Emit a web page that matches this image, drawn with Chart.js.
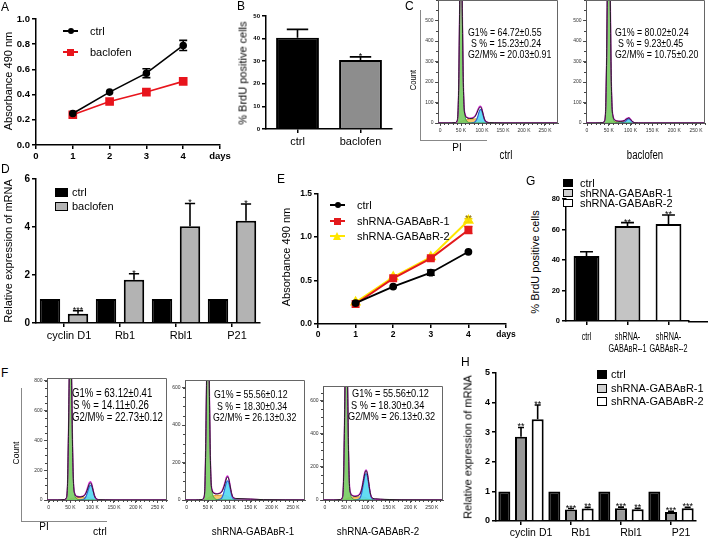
<!DOCTYPE html>
<html>
<head>
<meta charset="utf-8">
<script src="https://cdn.jsdelivr.net/npm/chart.js@4.4.1/dist/chart.umd.min.js"></script>
<style>
  body { margin: 0; background: #fff; }
  #page { position: relative; width: 709px; height: 540px; overflow: hidden; background: #fff;
          font-family: "Liberation Sans", Arial, sans-serif; color: #000; }
  #page canvas { position: absolute; }
  .t { position: absolute; white-space: nowrap; line-height: 1; }
</style>
</head>
<body>
<div id="page"></div>
<script>
// ---------- data ----------
// A: proliferation, baclofen
const days = [1, 2, 3, 4];
const dayTicks = [0, 1, 2, 3, 4, 5];
const dayTickLabels = ['0', '1', '2', '3', '4', 'days'];
const aYTicks = [0, 0.2, 0.4, 0.6, 0.8, 1.0];
const aCtrl = [0.25, 0.42, 0.57, 0.79];
const aCtrlErr = [0, 0, 0.035, 0.04];
const aBac = [0.24, 0.345, 0.42, 0.505];
const aBacErr = [0, 0, 0, 0];

// B: BrdU, baclofen
const bCats = ['ctrl', 'baclofen'];
const bYTicks = [0, 10, 20, 30, 40, 50];
const bVals = [40.4, 30.5];
const bErr = [3.7, 1.4];
const bStars = ['', '*'];

// D: mRNA, baclofen
const dCats = ['cyclin D1', 'Rb1', 'Rbl1', 'P21'];
const dYTicks = [0, 2, 4, 6];
const dCtrl = [1, 1, 1, 1];
const dBac = [0.39, 1.8, 4.03, 4.26];
const dBacErr = [0.12, 0.25, 0.95, 0.7];
const dStars = ['***', '*', '*', '*'];

// E: proliferation, shRNA
const eYTicks = [0, 0.5, 1.0, 1.5];
const eCtrl = [0.24, 0.43, 0.59, 0.83];
const eCtrlErr = [0, 0, 0.03, 0];
const eSh1 = [0.23, 0.525, 0.755, 1.08];
const eSh1Err = [0, 0, 0.015, 0.04];
const eSh2 = [0.25, 0.54, 0.77, 1.19];
const eSh2Err = [0, 0, 0, 0.02];
const eSh2Stars = ['', '', '', '**'];

// G: BrdU, shRNA
const gCats = ['ctrl', ['shRNA-', 'GABAʙR--1'], ['shRNA-', 'GABAʙR--2']];
const gYTicks = [0, 20, 40, 60, 80];
const gVals = [42.6, 62.3, 63.6];
const gErr = [2.8, 2.2, 5.9];
const gStars = ['', '**', '**'];

// H: mRNA, shRNA
const hCats = ['cyclin D1', 'Rb1', 'Rbl1', 'P21'];
const hYTicks = [0, 1, 2, 3, 4, 5];
const hCtrl = [1, 1, 1, 1];
const hSh1 = [2.85, 0.39, 0.43, 0.30];
const hSh1Err = [0.31, 0.03, 0.04, 0.03];
const hSh1Stars = ['**', '***', '***', '***'];
const hSh2 = [3.44, 0.42, 0.40, 0.43];
const hSh2Err = [0.48, 0.04, 0.03, 0.03];
const hSh2Stars = ['**', '**', '**', '***'];

// cell cycle histograms (PI, in K) : raw, fit, G1, S, G2/M
const hx = [-5, 20, 36, 40, 43, 45, 47, 49, 50, 51, 53, 55, 57, 60, 64, 70, 76, 82, 86, 90, 93, 96, 99, 102, 105, 108, 112, 118, 130, 150, 180, 285];
const histXTicks = [0, 50, 100, 150, 200, 250];
const cYTicks = [0, 100, 200, 300, 400, 500];
const fCtrlYTicks = [0, 200, 400, 600, 800];
const fShYTicks = [0, 200, 400, 600];

const cCtrlRaw = [0,0,2,8,60,250,620,900,960,880,560,250,90,38,26,22,22,28,40,60,72,78,70,48,24,10,4,2,1,0,0,0];
const cCtrlFit = [0,0,1,6,55,240,600,920,980,900,580,260,95,42,28,24,25,31,44,64,77,82,74,50,25,10,4,1,0,0,0,0];
const cCtrlG1  = [0,0,1,6,55,238,595,915,975,895,575,255,88,30,9,2,0,0,0,0,0,0,0,0,0,0,0,0,0,0,0,0];
const cCtrlS   = [0,0,0,0,0,2,4,6,7,8,10,12,13,14,16,18,19,20,20,19,17,14,10,6,3,1,0,0,0,0,0,0];
const cCtrlG2  = [0,0,0,0,0,0,0,0,0,0,0,0,0,0,0,0,1,4,12,32,54,66,62,42,20,8,2,0,0,0,0,0];

const cBacRaw = [0,0,2,10,80,320,720,1100,1200,1080,700,300,100,30,14,9,8,9,12,18,22,24,20,12,6,2,1,0,0,0,0,0];
const cBacFit = [0,0,1,8,75,310,710,1120,1220,1100,710,310,105,32,15,10,9,10,13,20,24,26,21,13,6,2,1,0,0,0,0,0];
const cBacG1  = [0,0,1,8,74,308,706,1115,1215,1095,705,305,98,26,6,1,0,0,0,0,0,0,0,0,0,0,0,0,0,0,0,0];
const cBacS   = [0,0,0,0,0,1,2,3,3,4,4,5,5,6,6,7,7,7,7,6,5,4,3,2,1,0,0,0,0,0,0,0];
const cBacG2  = [0,0,0,0,0,0,0,0,0,0,0,0,0,0,0,0,0,2,5,12,18,20,16,9,4,1,0,0,0,0,0,0];

const fCtrlRaw = [0,0,3,12,90,380,800,1150,1250,1120,720,320,110,40,24,20,22,30,48,80,105,115,100,65,30,12,4,2,1,0,0,0];
const fCtrlFit = [0,0,2,10,85,370,790,1160,1260,1130,730,330,115,42,26,22,24,33,54,90,115,124,108,70,32,12,4,1,0,0,0,0];
const fCtrlG1  = [0,0,2,10,84,366,785,1155,1255,1125,725,325,108,34,10,2,0,0,0,0,0,0,0,0,0,0,0,0,0,0,0,0];
const fCtrlS   = [0,0,0,0,0,2,4,6,8,9,11,13,14,15,16,17,18,19,19,18,16,13,10,6,3,1,0,0,0,0,0,0];
const fCtrlG2  = [0,0,0,0,0,0,0,0,0,0,0,0,0,0,0,0,2,8,25,60,88,100,90,62,30,11,3,0,0,0,0,0];

const fSh1Raw = [0,0,3,12,85,340,700,1000,1080,980,640,300,110,50,36,32,34,42,60,88,112,123,110,75,40,18,10,8,7,5,2,0];
const fSh1Fit = [0,0,2,10,80,330,690,1010,1090,990,650,305,115,52,38,34,36,45,65,95,120,128,114,78,40,17,9,7,6,4,1,0];
const fSh1G1  = [0,0,2,10,79,326,685,1005,1085,985,645,300,108,40,14,3,0,0,0,0,0,0,0,0,0,0,0,0,0,0,0,0];
const fSh1S   = [0,0,0,0,0,2,5,8,10,12,14,17,19,21,23,24,25,26,26,25,23,20,16,12,8,5,3,2,1,0,0,0];
const fSh1G2  = [0,0,0,0,0,0,0,0,0,0,0,0,0,0,0,0,3,10,30,65,92,102,92,64,32,12,4,1,0,0,0,0];

const fSh2Raw = [0,0,3,12,90,360,740,1050,1130,1020,660,300,100,40,26,22,24,36,66,120,160,178,160,110,55,22,10,7,5,3,1,0];
const fSh2Fit = [0,0,2,10,85,350,730,1060,1140,1030,670,305,105,42,28,24,27,40,72,128,168,182,164,112,56,22,9,6,4,2,1,0];
const fSh2G1  = [0,0,2,10,84,346,725,1055,1135,1025,665,300,98,32,10,2,0,0,0,0,0,0,0,0,0,0,0,0,0,0,0,0];
const fSh2S   = [0,0,0,0,0,2,4,6,8,9,11,13,14,15,16,17,18,19,19,18,16,13,10,6,3,1,0,0,0,0,0,0];
const fSh2G2  = [0,0,0,0,0,0,0,0,0,0,0,0,0,0,0,0,3,12,45,100,145,160,145,100,50,18,5,1,0,0,0,0];

// ---------- helpers ----------
const FONT = "'Liberation Sans', Arial, sans-serif";
Chart.defaults.font.family = FONT;
Chart.defaults.color = '#000';
const page = document.getElementById('page');

function zeroPad(s) { s.paddingTop = 0; s.paddingBottom = 0; s.paddingLeft = 0; s.paddingRight = 0; }

// rect = plot area [x0,y0,x1,y1] on the page, m = room for labels around it
function place(rect, m, cfg) {
  const w = rect[2] - rect[0] + m.l + m.r, h = rect[3] - rect[1] + m.t + m.b;
  const cv = document.createElement('canvas');
  cv.width = w; cv.height = h;
  cv.style.left = (rect[0] - m.l) + 'px'; cv.style.top = (rect[1] - m.t) + 'px';
  cv.style.width = w + 'px'; cv.style.height = h + 'px';
  page.appendChild(cv);
  const o = cfg.options;
  o.responsive = false; o.animation = false; o.maintainAspectRatio = false;
  o.layout = { padding: { left: 0, top: m.t, right: m.r, bottom: 0 } };
  o.plugins = Object.assign({ legend: { display: false }, tooltip: { enabled: false } }, o.plugins || {});
  o.scales.x.afterFit = s => { s.height = m.b; zeroPad(s); };
  o.scales.y.afterFit = s => { s.width = m.l; zeroPad(s); };
  return new Chart(cv, cfg);
}

function linAxis(min, max, ticks, fmt, size) {
  return {
    type: 'linear', min: min, max: max,
    afterBuildTicks: s => { s.ticks = ticks.map(v => ({ value: v })); },
    border: { display: true, color: '#000', width: 1.5 },
    grid: { display: true, drawOnChartArea: false, drawTicks: true, tickLength: 4, color: '#000', lineWidth: 1.5 },
    ticks: { font: { size: size, weight: 'bold' }, color: '#000', padding: 2, callback: fmt, maxRotation: 0, autoSkip: false }
  };
}

function catAxis(size, labelOffset, hide) {
  return {
    type: 'category',
    border: { display: true, color: '#000', width: 1.5 },
    grid: { display: true, drawOnChartArea: false, drawTicks: true, tickLength: 4, color: '#000', lineWidth: 1.5, offset: false },
    ticks: { display: !hide, font: { size: size }, color: '#000', padding: 2, maxRotation: 0, autoSkip: false, labelOffset: labelOffset || 0 }
  };
}

function hAxis(min, max, ticks, fmt) {
  return {
    type: 'linear', min: min, max: max,
    afterBuildTicks: s => { s.ticks = ticks.map(v => ({ value: v })); },
    border: { display: true, color: '#555', width: 1 },
    grid: { display: true, drawOnChartArea: false, drawTicks: true, tickLength: 3, color: '#555', lineWidth: 1 },
    ticks: { font: { size: 5 }, color: '#333', padding: 1.5, callback: fmt, maxRotation: 0, autoSkip: false }
  };
}

const pts = (xs, ys) => xs.map((x, i) => ({ x: x, y: ys[i] }));
const dayLabel = v => dayTickLabels[dayTicks.indexOf(v)];

// error bars + stars, drawn from the value scale
const errPlugin = {
  id: 'errs',
  afterDatasetsDraw(chart) {
    const ctx = chart.ctx, ys = chart.scales.y;
    chart.data.datasets.forEach((ds, di) => {
      if (!ds.errs) return;
      const meta = chart.getDatasetMeta(di);
      meta.data.forEach((el, i) => {
        const v = ds.data[i];
        const val = typeof v === 'object' ? v.y : v;
        const e = ds.errs[i];
        const yT = ys.getPixelForValue(val + e);
        ctx.save();
        if (e > 0) {
          const yB = ds.both ? ys.getPixelForValue(val - e) : el.y;
          const cap = ds.cap || el.width * 0.25;
          ctx.strokeStyle = ds.errColor || '#000';
          ctx.lineWidth = 1.6;
          ctx.beginPath();
          ctx.moveTo(el.x, yB); ctx.lineTo(el.x, yT);
          ctx.moveTo(el.x - cap, yT); ctx.lineTo(el.x + cap, yT);
          if (ds.both) { ctx.moveTo(el.x - cap, yB); ctx.lineTo(el.x + cap, yB); }
          ctx.stroke();
        }
        if (ds.stars && ds.stars[i]) {
          ctx.fillStyle = ds.starColor || '#000';
          ctx.font = '9px ' + FONT;
          ctx.textAlign = 'center';
          ctx.textBaseline = 'alphabetic';
          ctx.fillText(ds.stars[i], el.x, yT + 2);
        }
        ctx.restore();
      });
    });
  }
};

// category labels drawn narrow, at the x scale's tick positions
function narrowLabels(labels, size, sx, lineH, offset) {
  return {
    id: 'narrowLabels',
    afterDraw(chart) {
      const sc = chart.scales.x, ctx = chart.ctx;
      ctx.save();
      ctx.fillStyle = '#000'; ctx.font = size + 'px ' + FONT;
      ctx.textAlign = 'center'; ctx.textBaseline = 'middle';
      labels.forEach((lab, i) => {
        const x = sc.getPixelForTick(i);
        (Array.isArray(lab) ? lab : [lab]).forEach((ln, j) => {
          ctx.save();
          ctx.translate(x, sc.top + offset + j * lineH);
          ctx.scale(sx, 1);
          ctx.fillText(ln, 0, 0);
          ctx.restore();
        });
      });
      ctx.restore();
    }
  };
}

function axisExt(len) {
  return {
    id: 'axisExt',
    afterDraw(chart) {
      const { ctx, chartArea: a } = chart;
      ctx.save(); ctx.strokeStyle = '#000'; ctx.lineWidth = 1.5;
      ctx.beginPath(); ctx.moveTo(a.right - 1, a.bottom + 0.75); ctx.lineTo(a.right + len, a.bottom + 0.75); ctx.stroke();
      ctx.restore();
    }
  };
}

function histFrame(xMax, yMax, yMinor) {
  return {
    id: 'histFrame',
    afterDraw(chart) {
      const { ctx, chartArea: a, scales } = chart;
      ctx.save(); ctx.strokeStyle = '#666'; ctx.lineWidth = 1;
      ctx.beginPath();
      ctx.moveTo(a.left, a.top + 0.5); ctx.lineTo(a.right - 0.5, a.top + 0.5); ctx.lineTo(a.right - 0.5, a.bottom);
      ctx.stroke();
      ctx.strokeStyle = '#444';
      ctx.beginPath();
      for (let v = 0; v <= xMax; v += 10) {
        const x = Math.round(scales.x.getPixelForValue(v)) + 0.5;
        ctx.moveTo(x, a.bottom); ctx.lineTo(x, a.bottom + 2);
      }
      for (let v = 0; v <= yMax; v += yMinor) {
        const y = Math.round(scales.y.getPixelForValue(v)) + 0.5;
        ctx.moveTo(a.left, y); ctx.lineTo(a.left - 2, y);
      }
      ctx.stroke(); ctx.restore();
    }
  };
}

function histSets(raw, fit, g1, s, g2) {
  const base = { pointRadius: 0, cubicInterpolationMode: 'monotone', borderWidth: 1 };
  return [
    Object.assign({}, base, { data: pts(hx, s), fill: 'origin', backgroundColor: 'rgba(246,196,96,0.9)', borderColor: 'rgba(226,150,40,0.9)', order: 5 }),
    Object.assign({}, base, { data: pts(hx, g2), fill: 'origin', backgroundColor: 'rgba(86,218,242,0.92)', borderColor: '#2f5fd8', borderWidth: 1.2, order: 4 }),
    Object.assign({}, base, { data: pts(hx, g1), fill: 'origin', backgroundColor: 'rgba(118,204,96,0.9)', borderColor: '#3f9c3f', order: 3 }),
    Object.assign({}, base, { data: pts(hx, fit), fill: false, borderColor: '#d01fd0', borderWidth: 1.3, order: 2 }),
    Object.assign({}, base, { data: pts(hx, raw), fill: false, borderColor: '#222', borderWidth: 1, order: 1 })
  ];
}

function histChart(rect, m, xMin, xMax, yMax, yTicks, yMinor, sets) {
  place(rect, m, {
    type: 'line',
    data: { datasets: sets },
    options: {
      scales: {
        x: hAxis(xMin, xMax, histXTicks, v => v === 0 ? '0' : v + ' K'),
        y: hAxis(0, yMax, yTicks, v => v)
      }
    },
    plugins: [histFrame(270, yMax, yMinor)]
  });
}

function txt(s, x, y, size, o) {
  o = o || {};
  const d = document.createElement('div');
  d.className = 't'; d.textContent = s;
  d.style.left = x + 'px'; d.style.top = y + 'px'; d.style.fontSize = size + 'px';
  const sx = o.sx || 1;
  if (o.rot) d.style.transform = 'translate(-50%,-50%) rotate(-90deg) scaleX(' + sx + ')';
  else if (o.c) d.style.transform = 'translate(-50%,-50%) scaleX(' + sx + ')';
  else { d.style.transformOrigin = '0 50%'; d.style.transform = 'translateY(-50%) scaleX(' + sx + ')'; }
  if (o.color) d.style.color = o.color;
  page.appendChild(d);
}

function box(x, y, w, h, css) {
  const d = document.createElement('div');
  d.style.cssText = 'position:absolute;box-sizing:border-box;left:' + x + 'px;top:' + y + 'px;width:' + w + 'px;height:' + h + 'px;' + css;
  page.appendChild(d);
}

function legLine(x, y, color, shape, label) {
  box(x, y - 1, 15, 2, 'background:' + color);
  const cx = x + 7.5;
  if (shape === 'circle') box(cx - 3, y - 3, 6, 6, 'border-radius:50%;background:' + color);
  if (shape === 'rect') box(cx - 3.5, y - 3.5, 7, 7, 'background:' + color);
  if (shape === 'tri') box(cx - 4.5, y - 4.5, 9, 8, 'width:0;height:0;border-left:4.5px solid transparent;border-right:4.5px solid transparent;border-bottom:8px solid ' + color);
  txt(label, x + 27, y, 11);
}

function legBox(x, y, w, h, fill, label, tx) {
  box(x, y - h / 2, w, h, 'background:' + fill + ';border:1px solid #000');
  txt(label, tx, y, 11);
}

// ---------- A ----------
place([36, 19, 220, 145], { l: 36, t: 8, r: 14, b: 18 }, {
  type: 'line',
  data: { datasets: [
    { data: pts(days, aCtrl), errs: aCtrlErr, both: true, cap: 4, borderColor: '#000', backgroundColor: '#000',
      borderWidth: 1.6, pointStyle: 'circle', pointRadius: 3, order: 1 },
    { data: pts(days, aBac), errs: aBacErr, both: true, cap: 4, errColor: '#e8141c', borderColor: '#e8141c', backgroundColor: '#e8141c',
      borderWidth: 1.6, pointStyle: 'rect', pointRadius: 5, order: 2 }
  ] },
  options: { scales: {
    x: linAxis(0, 5, dayTicks, dayLabel, 9.5),
    y: linAxis(0, 1, aYTicks, v => v.toFixed(1), 9.5)
  } },
  plugins: [errPlugin]
});

// ---------- B ----------
place([266, 16, 392, 129], { l: 18, t: 6, r: 4, b: 20 }, {
  type: 'bar',
  data: { labels: bCats, datasets: [
    { data: bVals, errs: bErr, stars: bStars, backgroundColor: ['#000', '#8d8d8d'], borderColor: '#000', borderWidth: 2,
      barPercentage: 0.68, categoryPercentage: 1 }
  ] },
  options: { scales: { x: catAxis(11), y: linAxis(0, 50, bYTicks, v => v, 6) } },
  plugins: [errPlugin]
});

// ---------- C ----------
histChart([438, 0, 558, 123], { l: 20, t: 0, r: 8, b: 14 }, -4.8, 281, 600, cYTicks, 50,
  histSets(cCtrlRaw, cCtrlFit, cCtrlG1, cCtrlS, cCtrlG2));
histChart([586, 0, 705, 123], { l: 18, t: 0, r: 4, b: 14 }, -2.3, 270.7, 600, cYTicks, 50,
  histSets(cBacRaw, cBacFit, cBacG1, cBacS, cBacG2));

// ---------- D ----------
place([36, 179, 260, 323], { l: 36, t: 8, r: 4, b: 22 }, {
  type: 'bar',
  data: { labels: dCats, datasets: [
    { data: dCtrl, backgroundColor: '#000', borderColor: '#000', borderWidth: 2, barPercentage: 0.73, categoryPercentage: 1 },
    { data: dBac, errs: dBacErr, stars: dStars, backgroundColor: '#b3b3b3', borderColor: '#000', borderWidth: 2,
      barPercentage: 0.73, categoryPercentage: 1 }
  ] },
  options: { scales: { x: catAxis(11, 5), y: linAxis(0, 6, dYTicks, v => v, 10) } },
  plugins: [errPlugin]
});

// ---------- E ----------
place([318, 193, 506, 324], { l: 28, t: 6, r: 14, b: 18 }, {
  type: 'line',
  data: { datasets: [
    { data: pts(days, eCtrl), errs: eCtrlErr, both: true, cap: 4, borderColor: '#000', backgroundColor: '#000',
      borderWidth: 1.8, pointStyle: 'circle', pointRadius: 3, order: 1 },
    { data: pts(days, eSh1), errs: eSh1Err, both: true, cap: 4, errColor: '#e31a1c', borderColor: '#e31a1c', backgroundColor: '#e31a1c',
      borderWidth: 2, pointStyle: 'rect', pointRadius: 4.2, order: 2 },
    { data: pts(days, eSh2), errs: eSh2Err, both: true, cap: 4, errColor: '#f5d800', stars: eSh2Stars, starColor: '#8a6a00',
      borderColor: '#ffe600', backgroundColor: '#ffe600', borderWidth: 2, pointStyle: 'triangle', pointRadius: 4.5, order: 3 }
  ] },
  options: { scales: {
    x: linAxis(0, 5, dayTicks, dayLabel, 8.5),
    y: linAxis(0, 1.5, eYTicks, v => v.toFixed(1), 8.5)
  } },
  plugins: [errPlugin]
});

// ---------- G ----------
place([566, 199, 689, 321], { l: 20, t: 8, r: 19, b: 32 }, {
  type: 'bar',
  data: { labels: gCats, datasets: [
    { data: gVals, errs: gErr, stars: gStars, backgroundColor: ['#000', '#c4c4c4', '#fff'], borderColor: '#000', borderWidth: 2,
      barPercentage: 0.63, categoryPercentage: 1 }
  ] },
  options: { scales: { x: catAxis(11, 0, true), y: linAxis(0, 80, gYTicks, v => v, 7.5) } },
  plugins: [errPlugin, axisExt(19), narrowLabels(gCats, 11, 0.66, 11.5, 16)]
});

// ---------- F ----------
histChart([47, 378, 167, 500], { l: 16, t: 3, r: 6, b: 12 }, -4, 272, 820, fCtrlYTicks, 50,
  histSets(fCtrlRaw, fCtrlFit, fCtrlG1, fCtrlS, fCtrlG2));
histChart([185, 380, 305, 500], { l: 16, t: 3, r: 6, b: 12 }, -4, 278, 640, fShYTicks, 50,
  histSets(fSh1Raw, fSh1Fit, fSh1G1, fSh1S, fSh1G2));
histChart([323, 386, 443, 500], { l: 16, t: 3, r: 6, b: 12 }, -4.7, 276, 690, fShYTicks, 50,
  histSets(fSh2Raw, fSh2Fit, fSh2G1, fSh2S, fSh2G2));

// ---------- H ----------
place([496, 373, 696, 521], { l: 24, t: 6, r: 8, b: 19 }, {
  type: 'bar',
  data: { labels: hCats, datasets: [
    { data: hCtrl, backgroundColor: '#000', borderColor: '#000', borderWidth: 2, barPercentage: 0.72, categoryPercentage: 1 },
    { data: hSh1, errs: hSh1Err, stars: hSh1Stars, backgroundColor: '#999', borderColor: '#000', borderWidth: 2,
      barPercentage: 0.72, categoryPercentage: 1 },
    { data: hSh2, errs: hSh2Err, stars: hSh2Stars, backgroundColor: '#fff', borderColor: '#000', borderWidth: 2,
      barPercentage: 0.72, categoryPercentage: 1 }
  ] },
  options: { scales: { x: catAxis(10.5, 10), y: linAxis(0, 5, hYTicks, v => v, 9) } },
  plugins: [errPlugin]
});

// ---------- text, legends, frames ----------
txt('A', 1, 7, 12); txt('B', 237, 6, 12); txt('C', 405, 6, 12);
txt('D', 1, 169, 12); txt('E', 277, 179, 12); txt('F', 1, 373, 12);
txt('G', 526, 181, 12); txt('H', 461, 362, 12);

txt('Absorbance 490 nm', 8, 81, 11, { rot: true });
txt('% BrdU positive cells', 243, 73, 11, { rot: true });
txt('Relative expression of mRNA', 8, 251, 11, { rot: true });
txt('Absorbance 490 nm', 286, 257, 11, { rot: true });
txt('% BrdU positive cells', 535, 262, 11, { rot: true });
txt('Relative expression of mRNA', 468, 447, 11, { rot: true });

legLine(63, 31, '#000', 'circle', 'ctrl');
legLine(63, 52, '#e8141c', 'rect', 'baclofen');
legBox(55, 192, 13, 9, '#000', 'ctrl', 72);
legBox(55, 206, 13, 9, '#b3b3b3', 'baclofen', 72);
legLine(330, 205, '#000', 'circle', 'ctrl');
legLine(330, 221, '#e31a1c', 'rect', 'shRNA-GABAʙR-1');
legLine(330, 236, '#ffe600', 'tri', 'shRNA-GABAʙR-2');
legBox(563, 183, 10, 8, '#000', 'ctrl', 580);
legBox(563, 193, 10, 8, '#d0d0d0', 'shRNA-GABAʙR-1', 580);
legBox(563, 203, 10, 8, '#fff', 'shRNA-GABAʙR-2', 580);
legBox(597, 374, 10, 9, '#000', 'ctrl', 611);
legBox(597, 388, 10, 9, '#d0d0d0', 'shRNA-GABAʙR-1', 611);
legBox(597, 401, 10, 9, '#fff', 'shRNA-GABAʙR-2', 611);

// C labels
box(420, 10, 1, 131, 'background:#888');
box(420, 140, 67, 1, 'background:#888');
txt('Count', 413, 80, 9, { rot: true, sx: 0.85 });
txt('PI', 457, 148, 10, { c: true });
txt('ctrl', 506, 155, 12, { c: true, sx: 0.8 });
txt('baclofen', 645, 155, 12, { c: true, sx: 0.8 });
txt('G1% = 64.72±0.55', 468, 32, 11, { sx: 0.8 });
txt('S % = 15.23±0.24', 471, 43, 11, { sx: 0.8 });
txt('G2/M% = 20.03±0.91', 468, 54, 11, { sx: 0.8 });
txt('G1% = 80.02±0.24', 615, 32, 11, { sx: 0.8 });
txt('S % = 9.23±0.45', 618, 43, 11, { sx: 0.8 });
txt('G2/M% = 10.75±0.20', 615, 54, 11, { sx: 0.8 });

// F labels
box(21, 388, 1, 134, 'background:#888');
box(21, 521, 86, 1, 'background:#888');
txt('Count', 16, 453, 9, { rot: true, sx: 0.95 });
txt('PI', 44, 527, 10, { c: true });
txt('ctrl', 100, 532, 11.5, { c: true, sx: 0.9 });
txt('shRNA-GABAʙR-1', 253, 532, 11.5, { c: true, sx: 0.85 });
txt('shRNA-GABAʙR-2', 378, 532, 11.5, { c: true, sx: 0.85 });
txt('G1% = 63.12±0.41', 72, 393, 12, { sx: 0.8 });
txt('S % = 14.11±0.26', 73, 405, 12, { sx: 0.8 });
txt('G2/M% = 22.73±0.12', 72, 417, 12, { sx: 0.8 });
txt('G1% = 55.56±0.12', 214, 394, 11, { sx: 0.8 });
txt('S % = 18.30±0.34', 217, 406, 11, { sx: 0.8 });
txt('G2/M% = 26.13±0.32', 213, 417, 11, { sx: 0.8 });
txt('G1% = 55.56±0.12', 352, 394, 11.5, { sx: 0.8 });
txt('S % = 18.30±0.34', 351, 406, 11.5, { sx: 0.8 });
txt('G2/M% = 26.13±0.32', 348, 417, 11.5, { sx: 0.8 });
</script>
</body>
</html>
